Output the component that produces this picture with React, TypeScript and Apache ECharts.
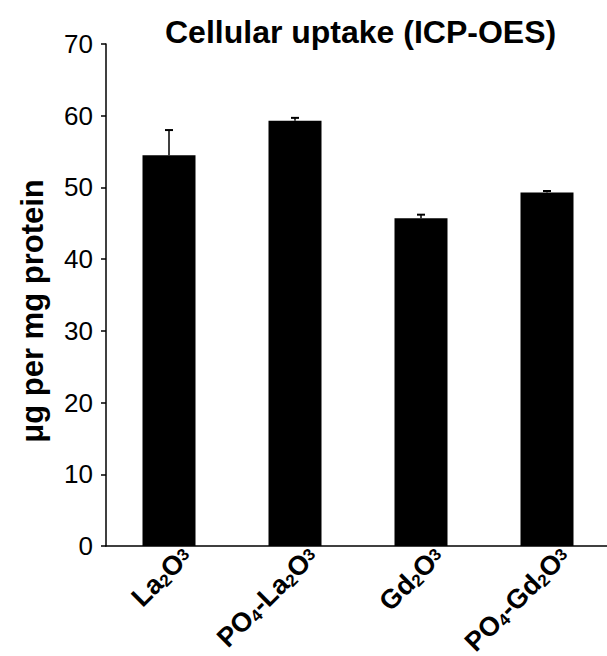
import React, { useEffect, useRef } from "react";
import * as echarts from "echarts";

const titleText = "Cellular uptake (ICP-OES)";
const yAxisName = "μg per mg protein";
const categories = ["La2O3", "PO4-La2O3", "Gd2O3", "PO4-Gd2O3"];
const categoryRich = [
  "{b|La}{s|2}{b|O}{p|3}",
  "{b|PO}{s|4}{b|-La}{s|2}{b|O}{p|3}",
  "{b|Gd}{s|2}{b|O}{p|3}",
  "{b|PO}{s|4}{b|-Gd}{s|2}{b|O}{p|3}",
];
const uptake = [54.5, 59.3, 45.7, 49.3];
const errors = [3.5, 0.4, 0.5, 0.2];
const yMin = 0;
const yMax = 70;
const yInterval = 10;

export default function App() {
  const ref = useRef<HTMLDivElement>(null);
  useEffect(() => {
    if (!ref.current) return;
    const chart = echarts.init(ref.current, null, { renderer: "svg" });
    const font = "'Liberation Sans', Arial, sans-serif";
    chart.setOption({
      animation: false,
      backgroundColor: "#ffffff",
      title: {
        text: titleText,
        left: 160,
        top: 11,
        textStyle: { fontFamily: font, fontSize: 32, fontWeight: "bold", color: "#000" },
      },
      grid: {
        left: 106,
        right: -3,
        top: 44,
        bottom: 110,
        containLabel: false,
        outerBoundsMode: "none",
      },
      xAxis: {
        type: "category",
        data: categories,
        z: 10,
        axisLine: { show: true, lineStyle: { color: "#000", width: 1.5 } },
        axisTick: { show: false },
        axisLabel: {
          interval: 0,
          rotate: 45,
          margin: 23,
          padding: [0, -25, 0, 0],
          color: "#000",
          fontFamily: font,
          formatter: (_v: string, i: number) => categoryRich[i],
          rich: {
            b: { fontFamily: font, fontSize: 27, fontWeight: "bold", color: "#000", lineHeight: 29 },
            s: { fontFamily: font, fontSize: 17, fontWeight: "bold", color: "#000", verticalAlign: "bottom", lineHeight: 19 },
            p: { fontFamily: font, fontSize: 17, fontWeight: "bold", color: "#000", verticalAlign: "middle", lineHeight: 19 },
          },
        },
      },
      yAxis: {
        type: "value",
        min: yMin,
        max: yMax,
        interval: yInterval,
        name: yAxisName,
        nameLocation: "middle",
        nameGap: 58,
        nameTextStyle: {
          fontFamily: font,
          fontSize: 31,
          fontWeight: "bold",
          color: "#000",
          padding: [0, 32, 0, 0],
        },
        splitLine: { show: false },
        axisLine: { show: true, lineStyle: { color: "#000", width: 1.5 } },
        axisTick: { show: true, length: 5, lineStyle: { color: "#000", width: 1.5 } },
        axisLabel: { color: "#000", fontFamily: font, fontSize: 26, margin: 13 },
      },
      series: [
        {
          type: "bar",
          data: uptake,
          barWidth: 53,
          itemStyle: { color: "#000" },
        },
        {
          type: "custom",
          z: 5,
          data: uptake.map((v, i) => [i, v, errors[i]]),
          renderItem: (_params: any, api: any) => {
            const x = api.value(0);
            const base = api.coord([x, api.value(1)]);
            const top = api.coord([x, api.value(1) + api.value(2)]);
            return {
              type: "group",
              children: [
                {
                  type: "line",
                  shape: { x1: base[0], y1: base[1], x2: top[0], y2: top[1] },
                  style: { stroke: "#000", lineWidth: 1.5 },
                },
                {
                  type: "line",
                  shape: { x1: top[0] - 4, y1: top[1], x2: top[0] + 4, y2: top[1] },
                  style: { stroke: "#000", lineWidth: 2 },
                },
              ],
            };
          },
        },
      ],
    });
    return () => chart.dispose();
  }, []);
  return (
    <div
      ref={ref}
      style={{ position: "absolute", left: 0, top: 0, width: 607, height: 656 }}
    />
  );
}
